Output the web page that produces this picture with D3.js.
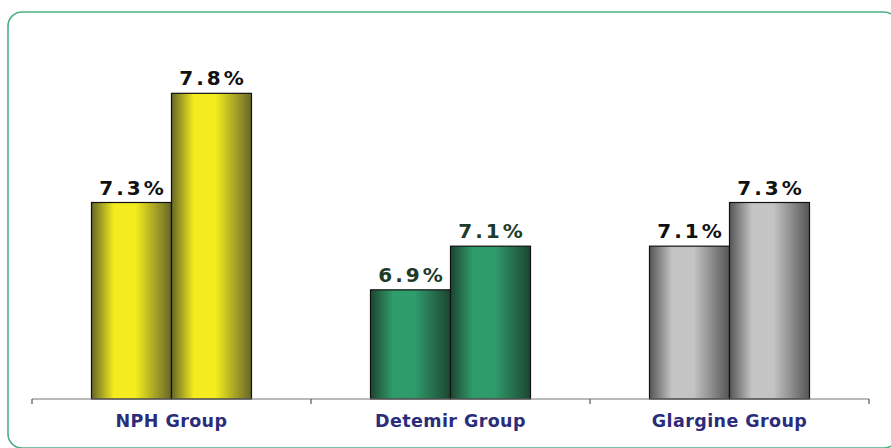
<!DOCTYPE html>
<html><head><meta charset="utf-8">
<script src="https://cdn.jsdelivr.net/npm/d3@7"></script>
<style>body{margin:0;background:#fff}svg{display:block}</style>
</head><body>
<script>
const categories = ["NPH Group", "Detemir Group", "Glargine Group"];
const seriesA = [7.3, 6.9, 7.1];
const seriesB = [7.8, 7.1, 7.3];
const labelsA = ["7.3%", "6.9%", "7.1%"];
const labelsB = ["7.8%", "7.1%", "7.3%"];
const palettes = [
  {edge: "#66662a", mid: "#f4ec1e", text: "#111"},
  {edge: "#1c4530", mid: "#2f9c6c", text: "#1e3a28"},
  {edge: "#555555", mid: "#c4c4c4", text: "#111"}
];

const W = 891, H = 448;
const svg = d3.select("body").append("svg").attr("width", W).attr("height", H);

svg.append("rect").attr("x", 8).attr("y", 12).attr("width", 890).attr("height", 436)
  .attr("rx", 14).attr("fill", "none").attr("stroke", "#4fae82").attr("stroke-width", 1.6);

const x = d3.scaleBand().domain(categories).range([32, 869]).paddingInner(0).paddingOuter(0);
const y = d3.scaleLinear().domain([6.4, 8.2]).range([399, 6]);

const defs = svg.append("defs");
palettes.forEach((p, i) => {
  const g = defs.append("linearGradient").attr("id", "g" + i).attr("x1", 0).attr("x2", 1).attr("y1", 0).attr("y2", 0);
  g.append("stop").attr("offset", "0%").attr("stop-color", p.edge);
  g.append("stop").attr("offset", "28%").attr("stop-color", p.mid);
  g.append("stop").attr("offset", "55%").attr("stop-color", p.mid);
  g.append("stop").attr("offset", "100%").attr("stop-color", p.edge);
});

const barW = 80;
categories.forEach((c, i) => {
  const cx = x(c) + x.bandwidth() / 2;
  [[seriesA[i], labelsA[i], cx - barW], [seriesB[i], labelsB[i], cx]].forEach(([v, lab, bx]) => {
    svg.append("rect").attr("x", bx).attr("y", y(v)).attr("width", barW)
      .attr("height", y(6.4) - y(v)).attr("fill", `url(#g${i})`)
      .attr("stroke", "#111").attr("stroke-width", 1.2);
    svg.append("text").attr("x", bx + barW / 2 + 1.5).attr("y", y(v) - 8)
      .attr("text-anchor", "middle").attr("font-family", "DejaVu Sans").attr("font-weight", "bold")
      .attr("font-size", 20).attr("letter-spacing", 3).attr("fill", palettes[i].text).text(lab);
  });
});

const axis = svg.append("g").attr("transform", "translate(0,399)");
axis.append("line").attr("x1", 32).attr("x2", 869).attr("stroke", "#777").attr("stroke-width", 1.2);
const tickX = categories.map(c => x(c)).concat([x.range()[1]]);
axis.selectAll(".tk").data(tickX).enter().append("line")
  .attr("x1", d => d).attr("x2", d => d).attr("y1", 0).attr("y2", 5)
  .attr("stroke", "#555").attr("stroke-width", 1.2);

svg.selectAll(".cat").data(categories).enter().append("text")
  .attr("x", d => x(d) + x.bandwidth() / 2).attr("y", 427)
  .attr("text-anchor", "middle").attr("font-family", "DejaVu Sans").attr("font-weight", "bold")
  .attr("font-size", 17.5).attr("letter-spacing", 0.4).attr("fill", "#2b2d7a").text(d => d);
</script>
</body></html>
